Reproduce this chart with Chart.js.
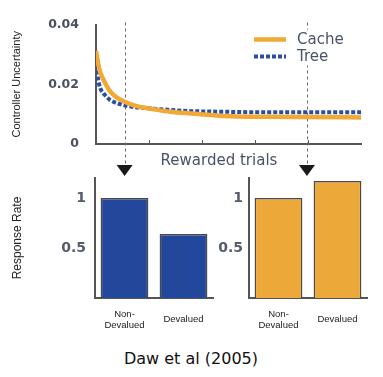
<!DOCTYPE html>
<html><head><meta charset="utf-8">
<script src="https://cdn.jsdelivr.net/npm/chart.js@4.4.1/dist/chart.umd.min.js"></script>
<style>
body{margin:0;background:#fff;width:383px;height:377px;position:relative;overflow:hidden;}
.box{position:absolute;}
.lbl{position:absolute;white-space:nowrap;}
</style></head><body>
<div class="box" style="left:0;top:0;width:383px;height:180px"><canvas id="top" width="383" height="180"></canvas></div>
<div class="box" style="left:0;top:160px;width:230px;height:180px"><canvas id="bl" width="230" height="180"></canvas></div>
<div class="box" style="left:200px;top:160px;width:183px;height:180px"><canvas id="br" width="183" height="180"></canvas></div>
<div class="lbl" style="left:0;width:438px;top:151px;line-height:18px;text-align:center;font-family:'DejaVu Sans';font-size:15px;color:#4a5266">Rewarded trials</div>
<div class="lbl" style="left:0;width:382px;top:349px;line-height:19px;text-align:center;font-family:'DejaVu Sans';font-size:16px;color:#111">Daw et al (2005)</div>
<script>
const trials = [0,2,4,7,10,13,18,26,35,45,55,70,90,120,160,200,250];
const cacheU = [0.0312,0.0270,0.0240,0.0216,0.0195,0.0178,0.0160,0.0143,0.0130,0.0122,0.0116,0.0108,0.0102,0.0094,0.0091,0.0090,0.0089];
const treeU  = [0.0266,0.0216,0.0187,0.0170,0.0158,0.0148,0.0139,0.0130,0.0124,0.0121,0.0118,0.0114,0.0110,0.0108,0.0106,0.0106,0.0106];
const seriesNames = ['Cache','Tree'];
const uncertaintyTicks = [0, 0.02, 0.04];
const trialTicks = [50, 100, 150, 200];
const devaluationTrials = [27, 199];
const conditions = [['Non-','Devalued'], 'Devalued'];
const treeRate = [1.00, 0.64];
const cacheRate = [1.00, 1.17];
const rateTicks = [0.5, 1];

const ORANGE = '#f0a935', BLUE = '#2a4ea6';
const BAR_ORANGE = '#eda83a', BAR_BLUE = '#23479b';
const AXIS = '#555';
Chart.defaults.font.family = "'Liberation Sans', Arial, sans-serif";

const overlay = {
  id: 'overlay',
  beforeDatasetsDraw(chart) {
    const {ctx, chartArea: a, scales: {x}} = chart;
    ctx.save();
    ctx.strokeStyle = '#6a6a6a';
    ctx.lineWidth = 1;
    ctx.setLineDash([3, 3]);
    devaluationTrials.forEach(t => {
      const px = Math.round(x.getPixelForValue(t)) + 0.5;
      ctx.beginPath(); ctx.moveTo(px, a.top - 2); ctx.lineTo(px, a.bottom + 21); ctx.stroke();
    });
    ctx.restore();
  },
  afterDraw(chart) {
    const {ctx, chartArea: a, scales: {x}} = chart;
    ctx.save();
    ctx.strokeStyle = AXIS; ctx.lineWidth = 1;
    trialTicks.forEach(t => {
      const px = Math.round(x.getPixelForValue(t)) + 0.5;
      ctx.beginPath(); ctx.moveTo(px, a.bottom); ctx.lineTo(px, a.bottom - 4); ctx.stroke();
    });
    ctx.fillStyle = '#1a1a1a';
    devaluationTrials.forEach(t => {
      const px = x.getPixelForValue(t);
      ctx.beginPath();
      ctx.moveTo(px - 8, a.bottom + 21); ctx.lineTo(px + 8, a.bottom + 21); ctx.lineTo(px, a.bottom + 32);
      ctx.closePath(); ctx.fill();
    });
    const lx = a.right - 107, ly = a.top + 15;
    ctx.fillStyle = '#fff';
    ctx.fillRect(lx - 4, ly - 10, 98, 36);
    ctx.font = "15px 'DejaVu Sans'";
    ctx.textBaseline = 'middle';
    chart.data.datasets.forEach((ds, i) => {
      const yy = ly + i * 17;
      ctx.strokeStyle = ds.borderColor; ctx.lineWidth = ds.borderWidth;
      ctx.setLineDash(ds.borderDash || []);
      ctx.beginPath(); ctx.moveTo(lx, yy); ctx.lineTo(lx + 32, yy); ctx.stroke();
      ctx.setLineDash([]);
      ctx.fillStyle = '#4a5266';
      ctx.fillText(ds.label, lx + 43, yy + 1);
    });
    ctx.restore();
  }
};

new Chart(document.getElementById('top'), {
  type: 'line',
  data: {
    datasets: [
      { label: seriesNames[0], data: trials.map((t, i) => ({x: t, y: cacheU[i]})),
        borderColor: ORANGE, borderWidth: 4.5, pointRadius: 0, cubicInterpolationMode: 'monotone' },
      { label: seriesNames[1], data: trials.map((t, i) => ({x: t, y: treeU[i]})),
        borderColor: BLUE, borderWidth: 4, borderDash: [4, 2], borderCapStyle: 'butt', pointRadius: 0, cubicInterpolationMode: 'monotone' }
    ]
  },
  options: {
    responsive: false, devicePixelRatio: 1, animation: false,
    layout: { padding: { left: 0, top: 7, right: 22, bottom: 0 } },
    plugins: { legend: { display: false }, tooltip: { enabled: false } },
    scales: {
      x: { type: 'linear', min: 0, max: 250,
        ticks: { display: false }, grid: { display: false, drawTicks: false },
        border: { display: true, color: AXIS, width: 2 },
        afterFit: s => { s.height = 36; } },
      y: { min: 0, max: 0.04,
        afterBuildTicks: s => { s.ticks = uncertaintyTicks.map(v => ({value: v})); },
        ticks: { callback: v => String(v), color: '#4a4f63', padding: 17, font: { family: "'DejaVu Sans'", size: 12.5, weight: 'bold' } },
        grid: { display: false, drawTicks: false },
        border: { display: true, color: AXIS, width: 2 },
        title: { display: true, text: 'Controller Uncertainty', color: '#222', font: { size: 11 }, padding: { top: 10 } },
        afterFit: s => { s.width = 96; } }
    }
  },
  plugins: [overlay]
});

function barChart(id, values, color, yWidth, padRight, tickPad, title) {
  new Chart(document.getElementById(id), {
    type: 'bar',
    data: { labels: conditions, datasets: [{ data: values, backgroundColor: color, borderColor: '#4a4a4a', borderWidth: 1.5, barPercentage: 0.81, categoryPercentage: 1 }] },
    options: {
      responsive: false, devicePixelRatio: 1, animation: false,
      layout: { padding: { left: 0, top: 18, right: padRight, bottom: 0 } },
      plugins: { legend: { display: false }, tooltip: { enabled: false } },
      scales: {
        x: { ticks: { color: '#222', font: { size: 9.5 }, padding: 16, crossAlign: 'center', maxRotation: 0, autoSkip: false },
          grid: { display: false, drawTicks: false },
          border: { display: true, color: AXIS, width: 2 },
          afterFit: s => { s.height = 42; } },
        y: { min: 0, max: 1.2,
          afterBuildTicks: s => { s.ticks = rateTicks.map(v => ({value: v})); },
          ticks: { callback: v => String(v), color: '#555c6e', padding: tickPad, font: { family: "'DejaVu Sans'", size: 14, weight: 'bold' } },
          grid: { display: false, drawTicks: false },
          border: { display: true, color: AXIS, width: 2 },
          title: { display: !!title, text: title || '', color: '#222', font: { size: 12 }, padding: { top: 10 } },
          afterFit: s => { s.width = yWidth; } }
      }
    }
  });
}
barChart('bl', treeRate, BAR_BLUE, 95, 17, 9, 'Response Rate');
barChart('br', cacheRate, BAR_ORANGE, 49, 16, 6, null);
</script>
</body></html>
